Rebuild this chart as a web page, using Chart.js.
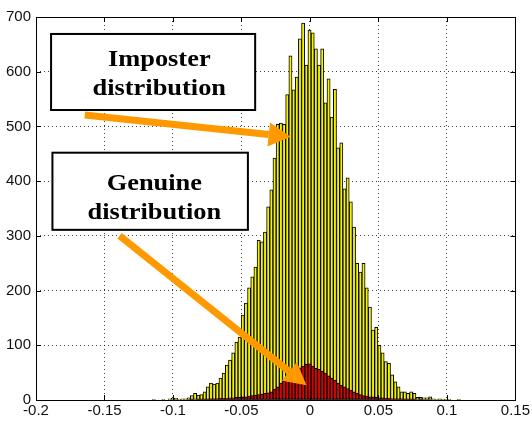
<!DOCTYPE html>
<html>
<head>
<meta charset="utf-8">
<script src="https://cdn.jsdelivr.net/npm/chart.js@4.4.0/dist/chart.umd.min.js"></script>
<style>
    body { margin: 0; background: #fff; }
    #wrap { position: relative; width: 532px; height: 424px; }
</style>
</head>
<body>
<div id="wrap"><canvas id="histChart"></canvas></div>
<script>
// Histogram bins (centres) and counts
const binCenters = [
    -0.11400, -0.11168, -0.10936, -0.10704, -0.10472, -0.10240, -0.10008, -0.09776, -0.09544, -0.09312,
    -0.09080, -0.08848, -0.08616, -0.08384, -0.08152, -0.07920, -0.07688, -0.07456, -0.07224, -0.06992,
    -0.06760, -0.06528, -0.06296, -0.06064, -0.05832, -0.05600, -0.05368, -0.05136, -0.04904, -0.04672,
    -0.04440, -0.04208, -0.03976, -0.03744, -0.03512, -0.03280, -0.03048, -0.02816, -0.02584, -0.02352,
    -0.02120, -0.01888, -0.01656, -0.01424, -0.01192, -0.00960, -0.00728, -0.00496, -0.00264, -0.00032,
    0.00200, 0.00432, 0.00664, 0.00896, 0.01128, 0.01360, 0.01592, 0.01824, 0.02056, 0.02288,
    0.02520, 0.02752, 0.02984, 0.03216, 0.03448, 0.03680, 0.03912, 0.04144, 0.04376, 0.04608,
    0.04840, 0.05072, 0.05304, 0.05536, 0.05768, 0.06000, 0.06232, 0.06464, 0.06696, 0.06928,
    0.07160, 0.07392, 0.07624, 0.07856, 0.08088, 0.08320, 0.08552, 0.08784, 0.09016, 0.09248,
    0.09480, 0.09712, 0.09944, 0.10176, 0.10408, 0.10640, 0.10872
];

const imposterCounts = [
    1, 0, 0, 1, 0, 2, 3, 3, 1, 2,
    2, 4, 8, 12, 9, 10, 15, 24, 31, 29,
    31, 40, 49, 64, 73, 86, 106, 115, 155, 177,
    205, 225, 243, 292, 289, 307, 353, 384, 442, 504,
    506, 504, 558, 629, 567, 590, 660, 689, 612, 676,
    671, 642, 612, 642, 543, 587, 517, 568, 461, 470,
    386, 406, 362, 316, 250, 234, 250, 205, 170, 128,
    133, 100, 86, 70, 67, 46, 33, 24, 15, 15,
    12, 15, 12, 5, 5, 4, 4, 6, 2, 1,
    2, 1, 1, 1, 0, 0, 1
];

const genuineCounts = [
    0, 0, 0, 0, 0, 0, 0, 0, 0, 0,
    0, 0, 1, 0, 1, 1, 1, 1, 2, 2,
    2, 3, 3, 3, 4, 4, 5, 5, 6, 6,
    7, 8, 9, 10, 11, 12, 13, 15, 20, 24,
    31, 35, 42, 47, 50, 54, 59, 62, 65, 66,
    62, 58, 56, 53, 49, 44, 40, 36, 31, 27,
    24, 21, 18, 15, 12, 10, 8, 7, 6, 6,
    5, 4, 4, 3, 3, 2, 2, 2, 2, 1,
    1, 1, 1, 0, 1, 0, 0, 0, 0, 0,
    0, 0, 0, 0, 0, 0, 0
];

const xTicks = [-0.2, -0.15, -0.1, -0.05, 0, 0.05, 0.1, 0.15];
const xTickLabels = ['-0.2', '-0.15', '-0.1', '-0.05', '0', '0.05', '0.1', '0.15'];
const yTicks = [0, 100, 200, 300, 400, 500, 600, 700];
const yTickLabels = ['0', '100', '200', '300', '400', '500', '600', '700'];

// Callouts, placed in data units
const callouts = [
    { lines: ['Imposter', 'distribution'], box: [-0.189, 669, -0.040, 530], textX: -0.1100, textY: [611, 558],
      arrowFrom: [-0.1644, 521], arrowTo: [-0.0141, 481] },
    { lines: ['Genuine', 'distribution'], box: [-0.188, 452, -0.0453, 311], textX: -0.1136, textY: [384, 331],
      arrowFrom: [-0.1390, 300], arrowTo: [-0.0025, 27] }
];

const toPoints = counts => binCenters.map((x, i) => ({ x: x, y: counts[i] }));

// Frame, inward ticks and callouts (MATLAB look)
const matlabFrame = {
    id: 'matlabFrame',
    afterDatasetsDraw(chart) {
        const { ctx, chartArea: a, scales: { x, y } } = chart;
        ctx.save();
        ctx.strokeStyle = '#000';
        ctx.lineWidth = 1;
        ctx.beginPath();
        xTicks.forEach(v => {
            const px = Math.round(x.getPixelForValue(v)) + 0.5;
            ctx.moveTo(px, a.bottom); ctx.lineTo(px, a.bottom - 5);
            ctx.moveTo(px, a.top); ctx.lineTo(px, a.top + 5);
        });
        yTicks.forEach(v => {
            const py = Math.round(y.getPixelForValue(v)) + 0.5;
            ctx.moveTo(a.left, py); ctx.lineTo(a.left + 5, py);
            ctx.moveTo(a.right, py); ctx.lineTo(a.right - 5, py);
        });
        ctx.stroke();
        ctx.strokeRect(Math.round(a.left) + 0.5, Math.round(a.top) + 0.5,
            Math.round(a.right - a.left), Math.round(a.bottom - a.top));

        callouts.forEach(c => {
            const x0 = x.getPixelForValue(c.box[0]), y0 = y.getPixelForValue(c.box[1]);
            const x1 = x.getPixelForValue(c.box[2]), y1 = y.getPixelForValue(c.box[3]);
            ctx.fillStyle = '#fff';
            ctx.fillRect(x0, y0, x1 - x0, y1 - y0);
            ctx.lineWidth = 2;
            ctx.strokeStyle = '#000';
            ctx.strokeRect(x0, y0, x1 - x0, y1 - y0);

            ctx.fillStyle = '#000';
            ctx.font = 'bold 24px "Liberation Serif", "Times New Roman", serif';
            ctx.textAlign = 'center';
            ctx.textBaseline = 'alphabetic';
            const tx = x.getPixelForValue(c.textX);
            c.lines.forEach((t, i) => {
                ctx.save();
                ctx.translate(tx, y.getPixelForValue(c.textY[i]));
                ctx.scale(1.1, 1);
                ctx.fillText(t, 0, 0);
                ctx.restore();
            });

            // orange arrow
            const sx = x.getPixelForValue(c.arrowFrom[0]), sy = y.getPixelForValue(c.arrowFrom[1]);
            const ex = x.getPixelForValue(c.arrowTo[0]), ey = y.getPixelForValue(c.arrowTo[1]);
            const ang = Math.atan2(ey - sy, ex - sx);
            const headLen = 22, headHalf = 12;
            const bx = ex - headLen * Math.cos(ang), by = ey - headLen * Math.sin(ang);
            ctx.strokeStyle = '#ff9900';
            ctx.lineWidth = 7;
            ctx.lineCap = 'butt';
            ctx.beginPath();
            ctx.moveTo(sx, sy);
            ctx.lineTo(bx, by);
            ctx.stroke();
            ctx.fillStyle = '#ff9900';
            ctx.beginPath();
            ctx.moveTo(ex, ey);
            ctx.lineTo(bx + headHalf * Math.sin(ang), by - headHalf * Math.cos(ang));
            ctx.lineTo(bx - headHalf * Math.sin(ang), by + headHalf * Math.cos(ang));
            ctx.closePath();
            ctx.fill();
        });
        ctx.restore();
    }
};

const ctx = document.getElementById('histChart').getContext('2d');

new Chart(ctx, {
    type: 'bar',
    data: {
        datasets: [{
            label: 'Genuine',
            data: toPoints(genuineCounts),
            backgroundColor: '#e00000',
            borderColor: '#000',
            borderWidth: 1,
            borderSkipped: false,
            order: 0
        }, {
            label: 'Imposter',
            data: toPoints(imposterCounts),
            backgroundColor: '#f4f400',
            borderColor: '#000',
            borderWidth: 1,
            borderSkipped: false,
            order: 1
        }]
    },
    options: {
        responsive: true,
        maintainAspectRatio: false,
        animation: false,
        events: [],
        grouped: false,
        barPercentage: 1,
        categoryPercentage: 1,
        layout: { padding: { top: 17, right: 14, left: 0, bottom: 0 } },
        plugins: {
            legend: { display: false },
            tooltip: { enabled: false }
        },
        scales: {
            x: {
                type: 'linear',
                min: -0.2,
                max: 0.15,
                offset: false,
                afterBuildTicks: s => { s.ticks = xTicks.map(v => ({ value: v })); },
                afterFit: s => { s.height = 24; },
                ticks: {
                    autoSkip: false,
                    maxRotation: 0,
                    padding: 2,
                    color: '#111',
                    font: { family: '"Liberation Sans", Arial, sans-serif', size: 15 },
                    callback: (v, i) => xTickLabels[i]
                },
                grid: {
                    offset: false,
                    drawTicks: false,
                    color: 'rgba(0,0,0,0.75)'
                },
                border: { display: false, dash: [1, 3] }
            },
            y: {
                min: 0,
                max: 700,
                afterBuildTicks: s => { s.ticks = yTicks.map(v => ({ value: v })); },
                afterFit: s => { s.width = 36; },
                ticks: {
                    padding: 5,
                    color: '#111',
                    font: { family: '"Liberation Sans", Arial, sans-serif', size: 15 },
                    callback: (v, i) => yTickLabels[i]
                },
                grid: {
                    drawTicks: false,
                    color: 'rgba(0,0,0,0.75)'
                },
                border: { display: false, dash: [1, 3] }
            }
        }
    },
    plugins: [matlabFrame]
});
</script>
</body>
</html>
